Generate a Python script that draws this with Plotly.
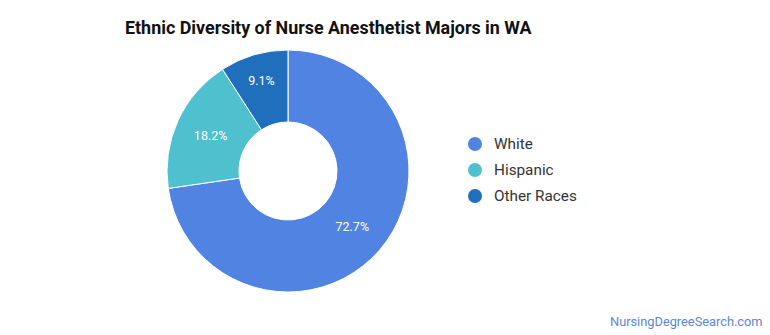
import plotly.graph_objects as go

title = "Ethnic Diversity of Nurse Anesthetist Majors in WA"
labels = ["White", "Hispanic", "Other Races"]
values = [72.7, 18.2, 9.1]
colors = ["#5184e2", "#4fc1ce", "#1f6fbc"]
watermark = "NursingDegreeSearch.com"

W, H = 770, 335
cx, cy, r = 288, 171, 121

fig = go.Figure()
fig.add_trace(go.Pie(
    labels=labels, values=values,
    hole=0.405, sort=False, direction="clockwise", rotation=0,
    marker=dict(colors=colors, line=dict(color="white", width=1)),
    textinfo="percent", texttemplate="%{percent:.1%}",
    textposition="inside", insidetextorientation="horizontal",
    textfont=dict(family="Roboto", size=12.5, color="white"),
    showlegend=False, hoverinfo="label+percent",
    domain=dict(x=[(cx - r) / W, (cx + r) / W], y=[(H - cy - r) / H, (H - cy + r) / H]),
))

shapes = []
annotations = []
ly0, ldy, lx = 144, 26, 475
for i, (lab, col) in enumerate(zip(labels, colors)):
    y = ly0 + i * ldy
    shapes.append(dict(type="circle", xref="paper", yref="paper",
                       x0=(lx - 7) / W, x1=(lx + 7) / W,
                       y0=(H - y - 7) / H, y1=(H - y + 7) / H,
                       fillcolor=col, line=dict(width=0)))
    annotations.append(dict(text=lab, x=(lx + 17) / W, y=(H - y) / H, xref="paper", yref="paper",
                            xanchor="left", yanchor="middle", showarrow=False,
                            font=dict(family="Roboto", size=15.3, color="#333333")))

annotations.append(dict(text="<b>" + title + "</b>", x=123 / W, y=(H - 28) / H, xref="paper", yref="paper",
                        xanchor="left", yanchor="middle", showarrow=False,
                        font=dict(family="Roboto", size=17.9, color="#111111")))
annotations.append(dict(text=watermark, x=765 / W, y=(H - 321) / H, xref="paper", yref="paper",
                        xanchor="right", yanchor="middle", showarrow=False,
                        font=dict(family="Roboto", size=12.8, color="#5b86d6")))

fig.update_layout(
    width=W, height=H, margin=dict(l=0, r=0, t=0, b=0),
    paper_bgcolor="white", plot_bgcolor="white",
    shapes=shapes, annotations=annotations, showlegend=False,
)
fig.write_html("out.html")
